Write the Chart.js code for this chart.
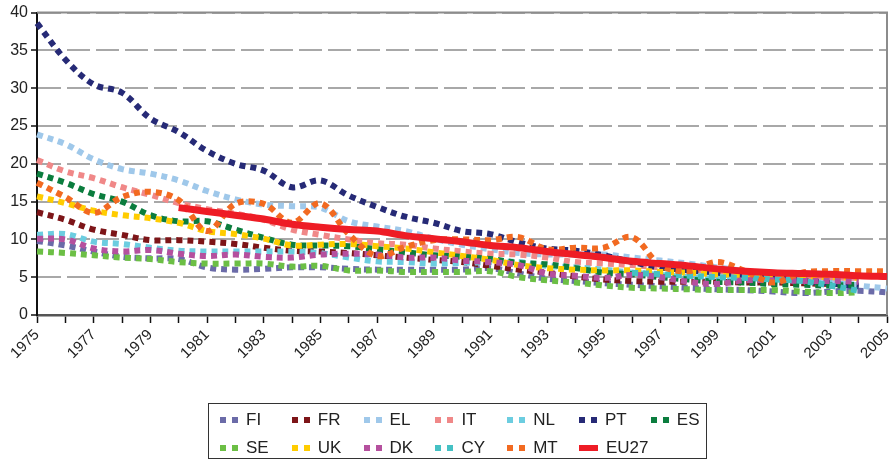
<!DOCTYPE html>
<html>
<head>
<meta charset="utf-8">
<script src="https://cdn.jsdelivr.net/npm/chart.js@4.4.1/dist/chart.umd.min.js"></script>
<style>
  body { margin: 0; background: #fff; font-family: "Liberation Sans", Arial, sans-serif; }
  #wrap { position: relative; width: 895px; height: 464px; }
  #legend { position: absolute; left: 208px; top: 403px; width: 499px; height: 56px;
            border: 1.5px solid #333; box-sizing: border-box; }
  .item { position: absolute; height: 20px; font-size: 17px; color: #222; line-height: 20px; }
  .mk { position: absolute; top: 7px; width: 6px; height: 6px; }
  .bar { position: absolute; top: 7px; left: 0; width: 19px; height: 6px; }
  .lbl { position: absolute; left: 26px; top: 0; white-space: nowrap; }
</style>
</head>
<body>
<div id="wrap">
  <canvas id="chart" width="895" height="464"></canvas>
  <div id="legend"></div>
</div>
<script>
const years = [];
for (let y = 1975; y <= 2005; y++) years.push(String(y));

const names = ["FI", "FR", "EL", "IT", "NL", "PT", "ES", "SE", "UK", "DK", "CY", "MT", "EU27"];
const colors = ["#6b6ba8", "#7d1518", "#9fc8ea", "#f08888", "#6ccde0", "#262a76", "#0b7d3e",
                "#6cbf45", "#ffcc00", "#b5509e", "#45c1c4", "#f26a21", "#ee1c25"];

const FI = [9.8, 9.2, 8.4, 7.7, 7.5, 7.4, 6.3, 6.0, 6.1, 6.3, 6.3, 6.1, 6.0, 6.0, 6.0, 6.0, 6.2, 5.5, 4.8, 4.5, 4.2, 4.0, 3.8, 3.6, 3.4, 3.3, 3.1, 2.9, 3.1, 3.2, 3.0];
const FR = [13.6, 12.6, 11.3, 10.6, 9.9, 9.9, 9.7, 9.4, 8.9, 8.5, 8.4, 8.2, 7.9, 7.6, 7.3, 7.0, 6.5, 6.0, 5.6, 5.1, 4.7, 4.5, 4.4, 4.4, 4.4, 4.3, 4.3, 4.2, 4.1, 4.0, null];
const EL = [23.9, 22.6, 20.6, 19.3, 18.7, 17.8, 16.4, 15.3, 14.6, 14.4, 14.2, 12.4, 11.7, 11.1, 10.1, 9.3, 8.7, 8.2, 8.0, 8.0, 8.0, 7.6, 7.2, 6.8, 6.3, 5.8, 5.3, 4.8, 4.4, 3.9, 3.5];
const IT = [20.5, 19.0, 18.1, 16.9, 15.9, 14.8, 14.0, 13.4, 12.6, 11.3, 10.6, 10.0, 9.5, 9.3, 8.8, 8.4, 8.1, 8.0, 7.6, 7.0, 6.8, 6.6, 6.3, 6.0, 5.8, 5.6, 5.4, 5.2, 5.0, 4.9, null];
const NL = [10.6, 10.7, 9.7, 9.4, 8.9, 8.5, 8.4, 8.4, 8.4, 8.4, 8.2, 7.6, 7.1, 7.0, 6.8, 6.9, 7.0, 7.0, 6.5, 6.3, 6.0, 5.6, 5.3, 5.0, 4.8, 4.8, 4.6, 4.4, 4.2, 4.0, null];
const PT = [38.6, 33.8, 30.5, 29.4, 26.0, 24.2, 21.7, 20.0, 19.1, 16.9, 17.8, 15.8, 14.3, 13.0, 12.2, 11.1, 10.7, 9.6, 8.8, 8.5, 7.9, 7.0, 6.3, 5.9, 5.6, 5.3, 5.0, 4.6, 4.2, 3.8, null];
const ES = [18.7, 17.5, 16.0, 15.0, 13.2, 12.4, 12.4, 11.3, 10.2, 9.3, 9.2, 9.1, 8.7, 8.3, 7.9, 7.7, 7.4, 6.9, 6.7, 6.2, 5.6, 5.4, 5.0, 4.7, 4.4, 4.3, 4.1, 4.0, 3.9, 4.0, null];
const SE = [8.4, 8.2, 7.9, 7.6, 7.4, 7.0, 6.8, 6.8, 6.8, 6.4, 6.5, 5.9, 5.9, 5.7, 5.7, 5.7, 5.8, 5.0, 4.6, 4.3, 3.9, 3.6, 3.5, 3.4, 3.3, 3.3, 3.3, 3.1, 2.9, 3.0, null];
const UK = [15.7, 14.8, 13.8, 13.2, 12.8, 12.2, 11.1, 10.7, 10.1, 9.2, 9.3, 9.4, 9.1, 8.8, 8.3, 7.8, 7.3, 6.6, 6.2, 6.0, 5.9, 5.9, 5.7, 5.6, 5.4, 5.3, 5.2, 5.1, 5.0, 4.9, null];
const DK = [10.1, 10.0, 8.8, 8.4, 8.6, 8.1, 7.8, 8.0, 7.7, 7.6, 8.0, 8.1, 8.0, 7.6, 7.6, 7.2, 7.0, 6.6, 5.5, 5.2, 4.9, 5.3, 5.0, 4.4, 4.1, 4.6, 4.6, 4.5, 4.5, 4.4, null];
const CY = [null, null, null, null, null, null, null, null, null, null, null, null, null, null, null, null, null, null, null, null, null, 5.6, 5.4, 5.2, 5.0, 4.9, 4.7, 4.5, 3.9, 3.2, null];
const MT = [17.5, 15.6, 13.5, 15.6, 16.3, 15.2, 11.1, 14.7, 14.7, 12.2, 14.8, 10.7, 7.8, 9.0, 9.9, 10.0, 9.9, 10.3, 8.7, 8.9, 8.9, 10.3, 6.6, 5.8, 7.0, 5.8, 4.3, 5.6, 5.8, 5.8, 5.8];
const EU27 = [null, null, null, null, null, 14.2, 13.7, 13.2, 12.7, 12.0, 11.6, 11.3, 11.1, 10.5, 10.1, 9.7, 9.2, 8.9, 8.4, 8.0, 7.6, 7.1, 6.8, 6.5, 6.1, 5.8, 5.6, 5.5, 5.4, 5.2, 5.1];

const series = [FI, FR, EL, IT, NL, PT, ES, SE, UK, DK, CY, MT, EU27];
const yTicks = [0, 5, 10, 15, 20, 25, 30, 35, 40];

const datasets = names.map((n, i) => {
  const solid = n === "EU27";
  return {
    label: n,
    data: series[i],
    borderColor: colors[i],
    backgroundColor: colors[i],
    borderWidth: solid ? 7 : 6,
    borderDash: solid ? [] : [6, 5],
    borderCapStyle: "butt",
    pointRadius: 0,
    tension: 0.35,
    spanGaps: false,
    order: names.length - i
  };
});

// grey frame on top and right of the plot area
const frame = {
  id: "frame",
  beforeDatasetsDraw(chart) {
    const { ctx, chartArea: a } = chart;
    ctx.save();
    ctx.strokeStyle = "#8c8c8c";
    ctx.lineWidth = 2;
    ctx.beginPath();
    ctx.moveTo(a.left, a.top);
    ctx.lineTo(a.right, a.top);
    ctx.lineTo(a.right, a.bottom);
    ctx.stroke();
    ctx.restore();
  }
};

new Chart(document.getElementById("chart"), {
  type: "line",
  data: { labels: years, datasets: datasets },
  options: {
    responsive: false,
    animation: false,
    devicePixelRatio: 1,
    layout: { padding: { top: 11, right: 8, bottom: 0, left: 0 } },
    plugins: { legend: { display: false }, tooltip: { enabled: false } },
    scales: {
      x: {
        offset: false,
        grid: { drawOnChartArea: false, tickLength: 8, tickColor: "#111", tickWidth: 1.5 },
        border: { display: true, color: "#555", width: 2.5 },
        ticks: {
          autoSkip: false, maxRotation: 45, minRotation: 45, padding: 3,
          color: "#222", font: { family: "Liberation Sans", size: 15 },
          callback: (v, i) => (i % 2 === 0 ? years[i] : "")
        },
        afterFit: s => { s.height = 149; s.paddingRight = 0; s.paddingLeft = 0; }
      },
      y: {
        min: 0, max: 40,
        afterBuildTicks: s => { s.ticks = yTicks.map(v => ({ value: v })); },
        grid: { color: "#a8a8a8", lineWidth: 2, tickLength: 6, tickColor: "#111", tickWidth: 1.5 },
        border: { display: true, color: "#111", width: 2, dash: [23, 6] },
        ticks: { color: "#222", padding: 3, font: { family: "Liberation Sans", size: 16 } },
        afterFit: s => { s.width = 37; }
      }
    }
  },
  plugins: [frame]
});

// legend box, two rows of seven columns
const legend = document.getElementById("legend");
names.forEach((n, i) => {
  const col = i % 7, row = Math.floor(i / 7);
  const item = document.createElement("div");
  item.className = "item";
  item.style.left = (11 + col * 71.8) + "px";
  item.style.top = (6 + row * 27.5) + "px";
  if (n === "EU27") {
    item.innerHTML = `<span class="bar" style="background:${colors[i]}"></span><span class="lbl" style="left:27px">${n}</span>`;
  } else {
    item.innerHTML = `<span class="mk" style="left:0;background:${colors[i]}"></span>` +
      `<span class="mk" style="left:12px;background:${colors[i]}"></span><span class="lbl">${n}</span>`;
  }
  legend.appendChild(item);
});
</script>
</body>
</html>
